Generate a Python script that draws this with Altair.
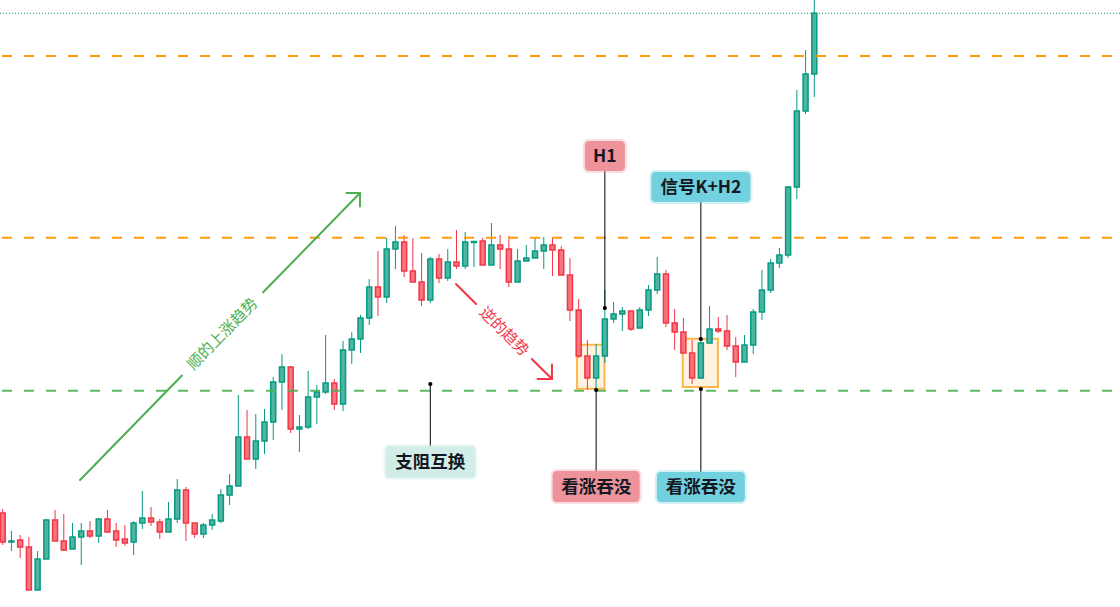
import math
import altair as alt
import pandas as pd

# ---- OHLC series (one entry per bar) ----
opens = [94, 65, 67, 60, 17, 48, 87, 66, 58, 70, 76, 71, 88, 76, 68, 65, 84, 89, 85, 75,
         88, 117, 84, 73, 82, 86, 112, 121, 170, 148, 166, 185, 225, 240, 178, 180, 210, 215, 224, 203,
         257, 268, 289, 320, 310, 358, 365, 336, 325, 307, 348, 329, 345, 341, 364.5, 366, 342, 362, 358, 325,
         346, 349, 356, 362, 357, 332, 297, 251, 229, 251, 288, 293, 296, 279, 297, 317, 333, 284, 275, 254,
         229, 264, 278, 276, 261, 245, 262, 295, 317, 344, 352, 420, 496, 533]
highs = [98, 76, 72, 70, 56, 88, 97, 93, 84, 84, 86, 89, 97, 84, 82, 86, 116, 100, 88, 105,
         128, 120, 84, 84, 93, 118, 133, 212, 197, 193, 198, 230, 253, 241, 192, 236, 222, 272, 228, 266,
         275, 292, 328, 356, 369, 381, 372, 369, 354, 350, 353, 358, 377, 375, 366, 369, 384, 372, 371, 358,
         362, 369, 370, 369, 361, 349, 308, 267, 263, 317, 305, 300, 296, 300, 322, 350, 337, 298, 289, 267,
         269, 301, 290, 292, 270, 272, 298, 337, 348, 359, 421, 517, 557, 612]
lows = [62, 56, 49, 17, 17, 48, 66, 56, 58, 42, 69, 64, 74, 60, 61, 52, 78, 81, 68, 75,
        84, 66, 69, 69, 77, 84, 102, 121, 148, 138, 153, 167, 197, 174, 155, 178, 183, 213, 197, 196,
        243, 254, 282, 291, 304, 338, 330, 325, 301, 304, 324, 326, 338, 338, 340, 342, 342, 338, 320, 325,
        346, 349, 338, 331, 332, 286, 249, 217, 217, 244, 284, 276, 276, 279, 291, 313, 280, 257, 254, 223,
        228, 264, 274, 257, 230, 245, 253, 287, 314, 339, 349, 408, 493, 510]
closes = [65, 66, 60, 17, 48, 87, 66, 57, 70, 76, 71, 88, 75, 67, 64, 84, 89, 85, 75, 88,
          117, 84, 73, 82, 87, 112, 121, 170, 148, 166, 185, 225, 240, 178, 180, 210, 215, 224, 203, 257,
          268, 289, 320, 310, 358, 365, 336, 325, 307, 348, 329, 345, 341, 365, 365.5, 342, 362, 358, 325, 346,
          349, 356, 362, 357, 332, 297, 251, 229, 251, 288, 293, 296, 278, 297, 317, 333, 284, 275, 254, 229,
          264, 278, 276, 261, 245, 262, 295, 317, 344, 352, 420, 496, 533, 593.7]

# ---- horizontal levels ----
resistance_levels = [551, 369.3]
support_levels = [216.3]

# ---- highlighted engulfing zones: (start bar, end bar, low, high) ----
zones_x1 = [66.8, 78.92]
zones_x2 = [69.95, 82.96]
zones_lo = [218.3, 220.0]
zones_hi = [262.3, 268.3]

# ---- callouts: text, bar, anchor price, box price, half width, half height, fill ----
callout_text = ["支阻互换", "H1", "信号K+H2", "看涨吞没", "看涨吞没"]
callout_bar = [50, 70, 81, 69, 81]
callout_anchor = [223, 299, 268, 217, 218]
callout_box = [145, 451, 420, 120.5, 120]
callout_hw = [45, 20, 49.5, 43.5, 44]
callout_hh = [16, 15, 15, 15.5, 15]
callout_fill = ["#D2ECE8", "#EF939A", "#72D1DF", "#EF939A", "#72D1DF"]

# ---- trend arrows: start/end (bar, price), text gap along the line ----
up_arrow = {"start": (9.86, 127), "end": (41.94, 414), "gap": (0.364, 0.654),
            "text": "顺的上涨趋势", "color": "#4CAF50",
            "head": [(-1.55, 0), (0, -13.5)]}
down_arrow = {"start": (52.94, 323), "end": (63.94, 228), "gap": (0.21, 0.79),
              "text": "逆的趋势", "color": "#F23645",
              "head": [(-1.65, 0), (0, 14.5)]}

W, H = 1120, 607
X_DOM = [0.69, 129.03]
Y_DOM = [0, 607]
PX_PER_BAR = W / (X_DOM[1] - X_DOM[0])
PX_PER_PRICE = H / (Y_DOM[1] - Y_DOM[0])

UP_LINE, DOWN_LINE = "#089981", "#F23645"
UP_FILL, DOWN_FILL = "#4DB6A3", "#F7757F"
CJK = "Noto Sans CJK SC"

xs = alt.Scale(domain=X_DOM, nice=False, zero=False, padding=0)
ys = alt.Scale(domain=Y_DOM, nice=False, zero=False, padding=0)


def X(f):
    return alt.X(f, type="quantitative", scale=xs, axis=None)


def Y(f):
    return alt.Y(f, type="quantitative", scale=ys, axis=None)


bars = pd.DataFrame({"i": range(1, len(opens) + 1), "open": opens, "high": highs,
                     "low": lows, "close": closes})
bars["dir"] = ["up" if c >= o else "down" for o, c in zip(opens, closes)]

dir_line = alt.Scale(domain=["up", "down"], range=[UP_LINE, DOWN_LINE])
dir_fill = alt.Scale(domain=["up", "down"], range=[UP_FILL, DOWN_FILL])

layers = []

# engulfing zones, under the candles
zones = pd.DataFrame({"x1": zones_x1, "x2": zones_x2, "lo": zones_lo, "hi": zones_hi})
layers.append(alt.Chart(zones).mark_rect(fill="#FFF3E0", stroke="#FFB74D", strokeWidth=2).encode(
    x=X("x1"), x2=alt.X2("x2"), y=Y("lo"), y2=alt.Y2("hi")))

# candles
layers.append(alt.Chart(bars).mark_rule(strokeWidth=1).encode(
    x=X("i"), y=Y("low"), y2=alt.Y2("high"),
    color=alt.Color("dir:N", scale=dir_line, legend=None)))
layers.append(alt.Chart(bars).mark_bar(size=5, strokeWidth=1.5).encode(
    x=X("i"), y=Y("open"), y2=alt.Y2("close"),
    fill=alt.Fill("dir:N", scale=dir_fill, legend=None),
    stroke=alt.Stroke("dir:N", scale=dir_line, legend=None)))

# horizontal levels
res = pd.DataFrame({"p": resistance_levels})
layers.append(alt.Chart(res).mark_rule(color="#FF9800", strokeWidth=2, strokeDash=[10, 12], opacity=0.95).encode(
    y=Y("p"), x=alt.value(2), x2=alt.value(W)))
sup = pd.DataFrame({"p": support_levels})
layers.append(alt.Chart(sup).mark_rule(color="#4CAF50", strokeWidth=2, strokeDash=[10, 12], opacity=0.9).encode(
    y=Y("p"), x=alt.value(2), x2=alt.value(W)))
last = pd.DataFrame({"p": [closes[-1]]})
layers.append(alt.Chart(last).mark_rule(color=UP_LINE, strokeWidth=1, strokeDash=[1, 2]).encode(
    y=Y("p"), x=alt.value(0), x2=alt.value(W)))


# trend arrows with rotated captions
def arrow_layers(a, key):
    (i0, p0), (i1, p1) = a["start"], a["end"]
    g0, g1 = a["gap"]

    def at(t):
        return (i0 + (i1 - i0) * t, p0 + (p1 - p0) * t)

    rows = []
    for seg, (ta, tb) in enumerate([(0.0, g0), (g1, 1.0)]):
        for k, t in enumerate((ta, tb)):
            ii, pp = at(t)
            rows.append({"seg": f"{key}{seg}", "o": k, "i": ii, "p": pp})
    for h, (di, dp) in enumerate(a["head"]):
        rows.append({"seg": f"{key}h{h}", "o": 0, "i": i1 + di, "p": p1 + dp})
        rows.append({"seg": f"{key}h{h}", "o": 1, "i": i1, "p": p1})
    df = pd.DataFrame(rows)
    line = alt.Chart(df).mark_line(color=a["color"], strokeWidth=2, strokeCap="round").encode(
        x=X("i"), y=Y("p"), detail="seg:N", order="o:Q")
    dx = (i1 - i0) * PX_PER_BAR
    dy = -(p1 - p0) * PX_PER_PRICE
    ang = math.degrees(math.atan2(dy, dx)) % 360
    ci, cp = at((g0 + g1) / 2)
    tdf = pd.DataFrame({"i": [ci], "p": [cp], "t": [a["text"]]})
    txt = alt.Chart(tdf).mark_text(font=CJK, fontSize=15.5, color=a["color"], angle=ang,
                                   align="center", baseline="middle").encode(
        x=X("i"), y=Y("p"), text="t:N")
    return [line, txt]


layers += arrow_layers(up_arrow, "u")
layers += arrow_layers(down_arrow, "d")

# callouts: connector, anchor dot, box, text
cdf = pd.DataFrame({"t": callout_text, "i": callout_bar, "a": callout_anchor, "b": callout_box})
layers.append(alt.Chart(cdf).mark_rule(color="#000000", strokeWidth=1).encode(
    x=X("i"), y=Y("a"), y2=alt.Y2("b")))
layers.append(alt.Chart(cdf).mark_circle(color="#000000", size=18, opacity=1).encode(
    x=X("i"), y=Y("a")))
for k in range(len(callout_text)):
    one = cdf.iloc[[k]]
    hw, hh, fill = callout_hw[k], callout_hh[k], callout_fill[k]
    layers.append(alt.Chart(one).mark_rect(fill=fill, opacity=0.3, cornerRadius=6,
                                           xOffset=-hw - 2, x2Offset=hw + 2,
                                           yOffset=-hh - 2, y2Offset=hh + 2).encode(
        x=X("i"), x2=alt.X2("i"), y=Y("b"), y2=alt.Y2("b")))
    layers.append(alt.Chart(one).mark_rect(fill=fill, cornerRadius=4,
                                           xOffset=-hw, x2Offset=hw,
                                           yOffset=-hh, y2Offset=hh).encode(
        x=X("i"), x2=alt.X2("i"), y=Y("b"), y2=alt.Y2("b")))
layers.append(alt.Chart(cdf).mark_text(font=CJK, fontSize=17.5, fontWeight="bold", color="#131722",
                                       align="center", baseline="middle", dy=1).encode(
    x=X("i"), y=Y("b"), text="t:N"))

chart = alt.layer(*layers).properties(
    width=W, height=H, padding=0, autosize=alt.AutoSizeParams(type="none"),
    background="#FFFFFF",
).configure_view(stroke=None)

chart.save("out.html", embed_options={"renderer": "svg", "actions": False})
